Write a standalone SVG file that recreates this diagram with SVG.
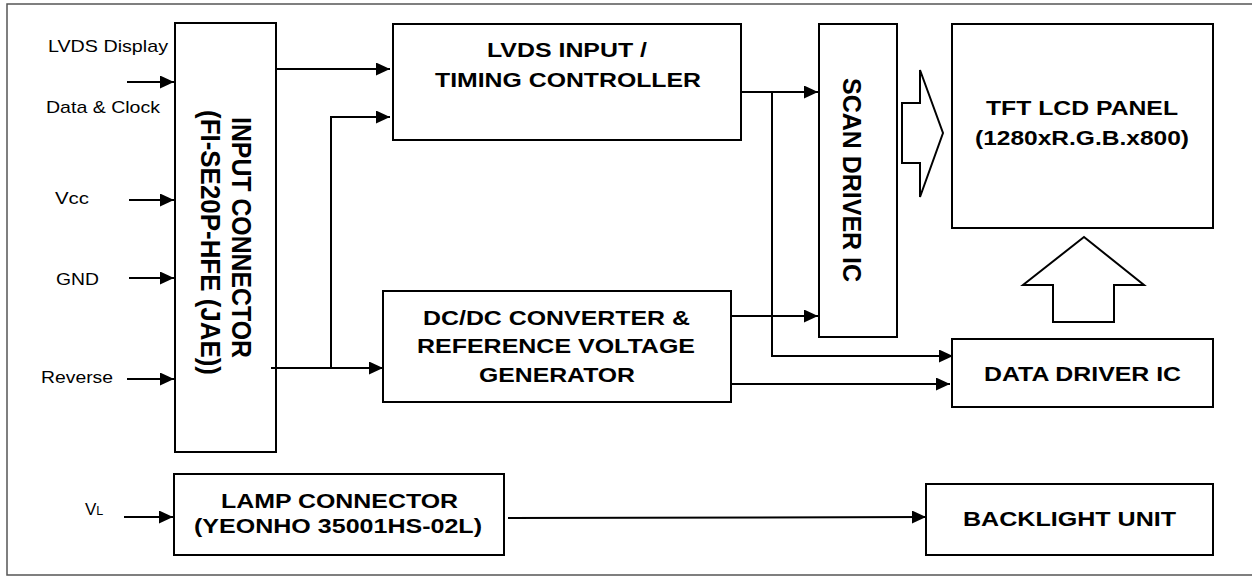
<svg xmlns="http://www.w3.org/2000/svg" width="1252" height="576" viewBox="0 0 1252 576">
<style>
.box{fill:#fff;stroke:#000;stroke-width:2}
.frame{fill:none;stroke:#555;stroke-width:1.5}
.ln{fill:none;stroke:#000;stroke-width:2}
.arr{fill:none;stroke:#000;stroke-width:2;marker-end:url(#ah)}
.blk{fill:#fff;stroke:#000;stroke-width:2;stroke-linejoin:miter}
.b{font-family:"Liberation Sans",Arial,sans-serif;font-weight:bold;font-size:20.5px;fill:#000}
.v{font-family:"Liberation Sans",Arial,sans-serif;font-weight:bold;font-size:27px;fill:#000}
.r{font-family:"Liberation Sans",Arial,sans-serif;font-size:17px;fill:#000}
</style>
<defs>
<marker id="ah" markerUnits="userSpaceOnUse" markerWidth="15" markerHeight="13" refX="14" refY="6.5" orient="auto">
<path d="M0,0 L14,6.5 L0,13 z" fill="#000"/>
</marker>
</defs>
<rect class="frame" x="7" y="4" width="1260" height="571"/>

<g id="labels">
<text class="r" x="48" y="52" textLength="120" lengthAdjust="spacingAndGlyphs">LVDS Display</text>
<text class="r" x="46" y="113" textLength="114" lengthAdjust="spacingAndGlyphs">Data &amp; Clock</text>
<text class="r" x="55" y="204" textLength="34" lengthAdjust="spacingAndGlyphs">Vcc</text>
<text class="r" x="56" y="285" textLength="43" lengthAdjust="spacingAndGlyphs">GND</text>
<text class="r" x="41" y="383" textLength="72" lengthAdjust="spacingAndGlyphs">Reverse</text>
<text class="r" x="85" y="515">V<tspan font-size="12.5">L</tspan></text>
</g>

<g id="input-connector">
<rect class="box" x="175" y="23" width="101" height="429"/>
<text class="v" transform="translate(232,117) rotate(90)" textLength="241" lengthAdjust="spacingAndGlyphs">INPUT CONNECTOR</text>
<text class="v" transform="translate(201,110) rotate(90)" textLength="265" lengthAdjust="spacingAndGlyphs">(FI-SE20P-HFE (JAE))</text>
</g>

<g id="timing-controller">
<rect class="box" x="393" y="24" width="348" height="116"/>
<text class="b" x="487" y="57" textLength="160" lengthAdjust="spacingAndGlyphs">LVDS INPUT /</text>
<text class="b" x="435" y="87" textLength="266" lengthAdjust="spacingAndGlyphs">TIMING CONTROLLER</text>
</g>

<g id="dcdc">
<rect class="box" x="383" y="291" width="348" height="111"/>
<text class="b" x="423" y="325" textLength="267" lengthAdjust="spacingAndGlyphs">DC/DC CONVERTER &amp;</text>
<text class="b" x="417" y="353" textLength="278" lengthAdjust="spacingAndGlyphs">REFERENCE VOLTAGE</text>
<text class="b" x="479" y="382" textLength="156" lengthAdjust="spacingAndGlyphs">GENERATOR</text>
</g>

<g id="scan-driver">
<rect class="box" x="819" y="24" width="78" height="313"/>
<text class="v" style="font-size:26px" transform="translate(843,78) rotate(90)" textLength="204" lengthAdjust="spacingAndGlyphs">SCAN DRIVER IC</text>
</g>

<g id="tft-panel">
<rect class="box" x="952" y="24" width="261" height="204"/>
<text class="b" x="986" y="115" textLength="192" lengthAdjust="spacingAndGlyphs">TFT LCD PANEL</text>
<text class="b" x="975" y="145" textLength="214" lengthAdjust="spacingAndGlyphs">(1280xR.G.B.x800)</text>
</g>

<g id="data-driver">
<rect class="box" x="952" y="339" width="261" height="68"/>
<text class="b" x="984" y="381" textLength="197" lengthAdjust="spacingAndGlyphs">DATA DRIVER IC</text>
</g>

<g id="lamp-connector">
<rect class="box" x="174" y="474" width="330" height="81"/>
<text class="b" x="221" y="508" textLength="237" lengthAdjust="spacingAndGlyphs">LAMP CONNECTOR</text>
<text class="b" x="194" y="533" textLength="288" lengthAdjust="spacingAndGlyphs">(YEONHO 35001HS-02L)</text>
</g>

<g id="backlight">
<rect class="box" x="926" y="484" width="287" height="71"/>
<text class="b" x="963" y="526" textLength="213" lengthAdjust="spacingAndGlyphs">BACKLIGHT UNIT</text>
</g>

<g id="connectors">
<line class="arr" x1="127" y1="82" x2="174" y2="82"/>
<line class="arr" x1="129" y1="200" x2="174" y2="200"/>
<line class="arr" x1="129" y1="278" x2="174" y2="278"/>
<line class="arr" x1="127" y1="379" x2="174" y2="379"/>
<line class="arr" x1="124" y1="517" x2="173" y2="517"/>
<line class="arr" x1="276" y1="69" x2="390" y2="69"/>
<line class="arr" x1="271" y1="368" x2="383" y2="368"/>
<polyline class="arr" points="331,368 331,117 390,117"/>
<line class="arr" x1="741" y1="92" x2="818" y2="92"/>
<polyline class="arr" points="772,92 772,356 953,356"/>
<line class="arr" x1="731" y1="316" x2="818" y2="316"/>
<line class="arr" x1="731" y1="384" x2="950" y2="384"/>
<line class="arr" x1="508" y1="518" x2="926" y2="517"/>
<polygon class="blk" points="902,103 920,103 920,70 943,133 920,197 920,163 902,163"/>
<polygon class="blk" points="1084,237 1144,285 1114,285 1114,322 1053,322 1053,285 1023,285"/>
</g>
</svg>
